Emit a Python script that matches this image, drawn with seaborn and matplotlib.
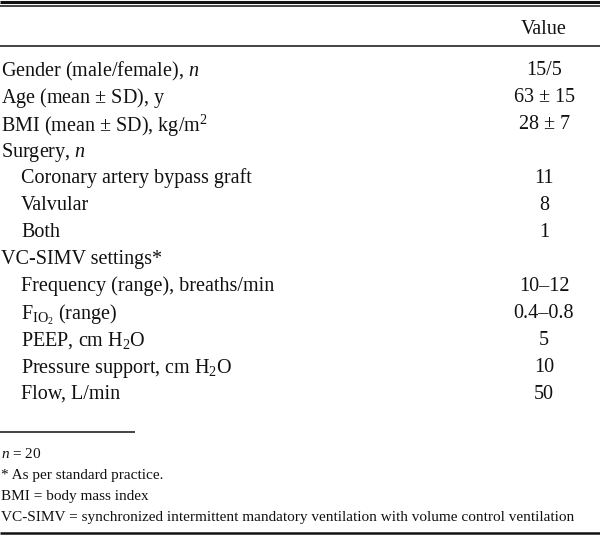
import matplotlib
matplotlib.use("Agg")
import matplotlib.pyplot as plt
import seaborn as sns

# table content
row_labels = [
    r"Gender (male/female), $n$",
    r"Age (mean $\pm$ SD), y",
    r"BMI (mean $\pm$ SD), kg/m$^2$",
    r"Surgery, $n$",
    "Coronary artery bypass graft",
    "Valvular",
    "Both",
    "VC-SIMV settings*",
    "Frequency (range), breaths/min",
    r"F$_{\mathrm{IO}_2}$ (range)",
    r"PEEP, cm H$_2$O",
    r"Pressure support, cm H$_2$O",
    "Flow, L/min",
]
row_indent = [0, 0, 0, 0, 1, 1, 1, 0, 1, 1, 1, 1, 1]
row_values = ["15/5", r"63 $\pm$ 15", r"28 $\pm$ 7", "", "11", "8", "1", "",
              "10–12", "0.4–0.8", "5", "10", "50"]
header = "Value"
footnotes = [
    r"$n$ = 20",
    "* As per standard practice.",
    "BMI = body mass index",
    "VC-SIMV = synchronized intermittent mandatory ventilation with volume control ventilation",
]

sns.set_theme(style="white")
plt.rcParams["font.family"] = ["Liberation Serif", "DejaVu Serif"]
plt.rcParams["mathtext.fontset"] = "custom"
plt.rcParams["mathtext.rm"] = "Liberation Serif"
plt.rcParams["mathtext.it"] = "Liberation Serif:italic"
plt.rcParams["mathtext.bf"] = "Liberation Serif:bold"

fig = plt.figure(figsize=(6, 5.35), dpi=100)
ax = fig.add_axes([0, 0, 1, 1])
ax.set_xlim(0, 600)
ax.set_ylim(535, 0)
ax.axis("off")

ink = "#111111"
body_size = 14.5
note_size = 11
val_x = 544

# rules
ax.hlines(1.5, 0, 600, color=ink, lw=2.2)
ax.hlines(6, 0, 600, color=ink, lw=1.1)
ax.hlines(46, 0, 600, color=ink, lw=1.1)
ax.hlines(432, 0, 135, color=ink, lw=1.1)
ax.hlines(533, 0, 600, color=ink, lw=1.8)

ax.text(val_x, 29, header, ha="center", va="center", fontsize=body_size, color=ink)

y0, dy = 68, 27
for i, (lab, ind, val) in enumerate(zip(row_labels, row_indent, row_values)):
    y = y0 + i * dy
    ax.text(1 + ind * 20, y, lab, ha="left", va="center_baseline",
            fontsize=body_size, color=ink)
    if val:
        ax.text(val_x, y, val, ha="center", va="center_baseline",
                fontsize=body_size, color=ink)

for j, note in enumerate(footnotes):
    ax.text(1, 453 + j * 21, note, ha="left", va="center_baseline",
            fontsize=note_size, color=ink)

fig.savefig("out.png", dpi=100, facecolor="white")
